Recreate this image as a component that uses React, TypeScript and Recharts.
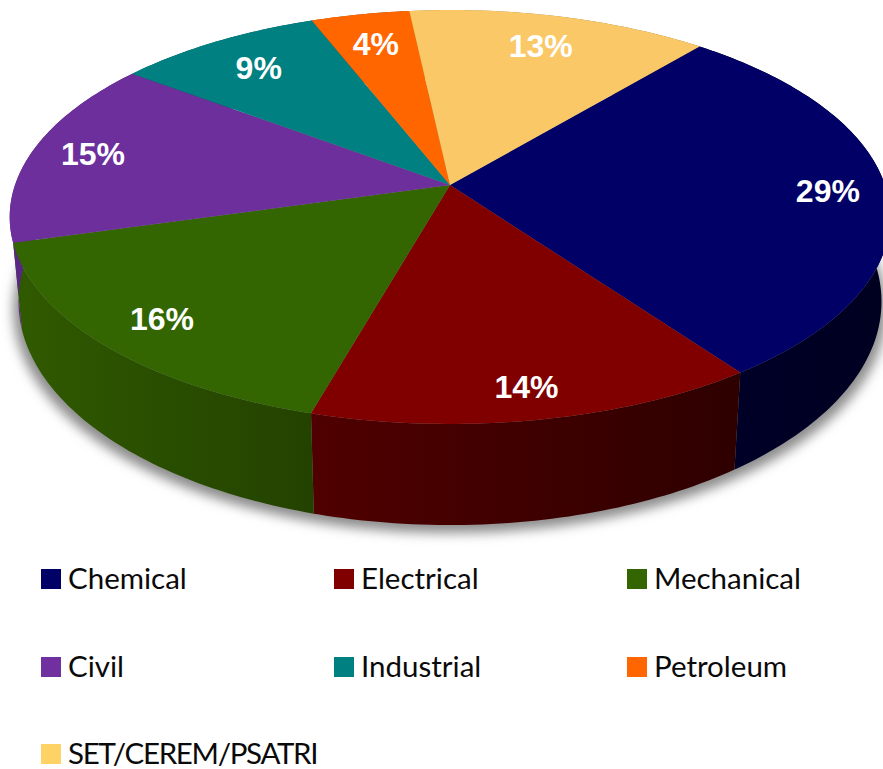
import React from "react";
import { PieChart, Pie, Legend } from "recharts";

const categories = ["Chemical", "Electrical", "Mechanical", "Civil", "Industrial", "Petroleum", "SET/CEREM/PSATRI"];
// shares; the labels show them rounded
const shares = [29, 14.3, 16.2, 14.7, 8.8, 4.2, 12.8];
const topColors = ["#000066", "#800000", "#336600", "#6C2F9C", "#008080", "#FF6600", "#FAC866"];
const legendColors = ["#000066", "#800000", "#336600", "#7030A0", "#008080", "#FF6600", "#FFD266"];
const wallLight = ["#00002A", "#500000", "#305A00", "#5A2885", "#006060", "#B34700", "#B08C47"];
const wallDark = ["#000020", "#2E0000", "#234200", "#4C2270", "#004D4D", "#8F3900", "#8C7039"];
const labelRatios = [0.865, 0.88, 0.85, 0.855, 0.8, 0.804, 0.804];

const data = categories.map((name, i) => ({ name, value: shares[i], fill: topColors[i] }));

// look of the tilted disc
const START = 50.1;
const TILT = 202 / 435;
const PERSPECTIVE = 0.1546;
const STEP = 1;

function project(cx: number, cy: number, r: number, angle: number, ratio = 1) {
  const rad = (angle * Math.PI) / 180;
  const u = Math.cos(rad) * ratio;
  const v = -Math.sin(rad) * ratio;
  const w = 1 - PERSPECTIVE * v;
  return { x: cx + (r * u) / w, y: cy + (r * TILT * v) / w };
}

// the lower rim sits further down and is a little narrower
function lower(p: { x: number; y: number }, cx: number, cy: number) {
  return { x: cx + (p.x - cx) * 0.98, y: cy + 82 + (p.y - cy) * 1.08 };
}

function arcPoints(cx: number, cy: number, r: number, from: number, to: number) {
  const pts = [];
  const dir = to < from ? -1 : 1;
  for (let a = from; dir * (to - a) > 0; a += dir * STEP) pts.push(project(cx, cy, r, a));
  pts.push(project(cx, cy, r, to));
  return pts;
}

const toPath = (pts: { x: number; y: number }[]) =>
  pts.map((p, i) => `${i ? "L" : "M"}${p.x.toFixed(2)} ${p.y.toFixed(2)}`).join(" ") + " Z";

function TopSlice(props: any) {
  const { cx, cy, outerRadius, startAngle, endAngle, fill } = props;
  const pts = [{ x: cx, y: cy }, ...arcPoints(cx, cy, outerRadius, startAngle, endAngle)];
  return <path d={toPath(pts)} fill={fill} />;
}

function WallSlice(props: any) {
  const { cx, cy, outerRadius, startAngle, endAngle, name } = props;
  const idx = categories.indexOf(name);
  const rim = arcPoints(cx, cy, outerRadius, startAngle, endAngle);
  const base = rim.map((p) => lower(p, cx, cy)).reverse();
  return (
    <g>
      <defs>
        <linearGradient id={`wall-${idx}`} x1="0" y1="0" x2="1" y2="0">
          <stop offset="0%" stopColor={wallLight[idx]} />
          <stop offset="100%" stopColor={wallDark[idx]} />
        </linearGradient>
      </defs>
      <path d={toPath([...rim, ...base])} fill={`url(#wall-${idx})`} />
    </g>
  );
}

// one blurred outline under the whole pie, drawn with the first slice
function ShadowSlice(props: any) {
  const { cx, cy, outerRadius, name } = props;
  if (name !== categories[0]) return <g />;
  const ring = arcPoints(cx, cy, outerRadius, 0, 360).map((p) => {
    const b = lower(p, cx, cy);
    return { x: cx + (b.x - cx) * 1.012, y: b.y + 8 };
  });
  return (
    <g>
      <defs>
        <filter id="pieShadow" filterUnits="userSpaceOnUse" x="-40" y="0" width="1000" height="600">
          <feGaussianBlur stdDeviation="6" />
        </filter>
      </defs>
      <path d={toPath(ring)} fill="#8c8c8c" filter="url(#pieShadow)" />
    </g>
  );
}

function renderLabel(props: any) {
  const { cx, cy, outerRadius, midAngle, value, name } = props;
  const p = project(cx, cy, outerRadius, midAngle, labelRatios[categories.indexOf(name)]);
  return (
    <text
      x={p.x}
      y={p.y}
      fill="#ffffff"
      textAnchor="middle"
      dominantBaseline="central"
      fontFamily="'Liberation Sans', Arial, sans-serif"
      fontWeight="bold"
      fontSize={32}
    >
      {`${Math.round(value)}%`}
    </text>
  );
}

function LegendGrid() {
  return (
    <div style={{ display: "grid", gridTemplateColumns: "293px 293px 293px", gridAutoRows: "87.5px" }}>
      {categories.map((name, i) => (
        <div key={name} style={{ display: "flex", alignItems: "center", height: 40 }}>
          <span style={{ width: 20, height: 20, background: legendColors[i], marginRight: 7, flex: "none" }} />
          <span
            style={{
              fontFamily: "Lato, sans-serif",
              fontSize: 29.5,
              lineHeight: 1,
              letterSpacing: name === name.toUpperCase() ? -1.3 : 0,
              color: "#0a0a0a",
              whiteSpace: "nowrap",
              position: "relative",
              top: -1,
            }}
          >
            {name}
          </span>
        </div>
      ))}
    </div>
  );
}

export default function App() {
  const pieProps = {
    data,
    dataKey: "value",
    nameKey: "name",
    cx: 450,
    cy: 185,
    outerRadius: 435,
    startAngle: START,
    endAngle: START - 360,
    stroke: "none",
    isAnimationActive: false,
  };
  return (
    <div style={{ position: "absolute", left: 0, top: 0, width: 883, height: 769, overflow: "hidden", background: "#fff" }}>
      <PieChart width={883} height={769} margin={{ top: 0, right: 0, bottom: 0, left: 0 }}>
        <Pie {...pieProps} legendType="none" shape={ShadowSlice} />
        <Pie {...pieProps} legendType="none" shape={WallSlice} />
        <Pie {...pieProps} shape={TopSlice} label={renderLabel} labelLine={false} />
        <Legend
          content={<LegendGrid />}
          wrapperStyle={{ position: "absolute", left: 41, top: 559, bottom: "auto", width: 842, margin: 0 }}
        />
      </PieChart>
    </div>
  );
}
